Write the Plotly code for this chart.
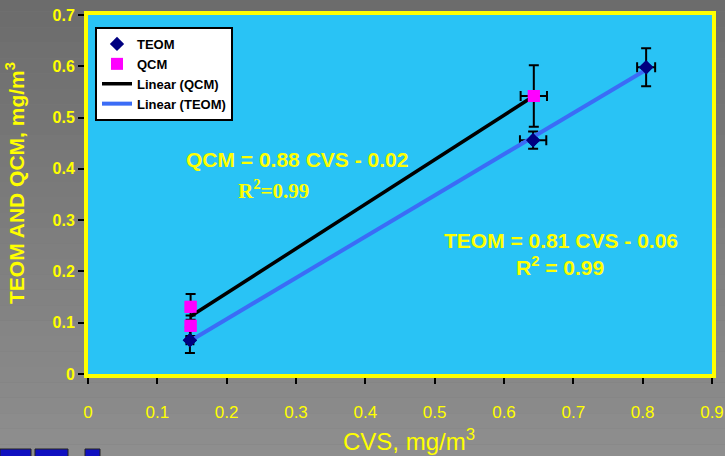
import numpy as np
import plotly.graph_objects as go

# ---- data ----
teom_x = [0.147, 0.642, 0.805]
teom_y = [0.066, 0.456, 0.598]
teom_ey = [0.025, 0.017, 0.037]
teom_ex = [0.005, 0.019, 0.013]

qcm_x = [0.148, 0.148, 0.643]
qcm_y = [0.131, 0.094, 0.542]
qcm_ey = [0.025, 0.02, 0.06]
qcm_ex = [0.005, 0.005, 0.019]

x_ticks = [0, 0.1, 0.2, 0.3, 0.4, 0.5, 0.6, 0.7, 0.8, 0.9]
y_ticks = [0, 0.1, 0.2, 0.3, 0.4, 0.5, 0.6, 0.7]

YEL = "#ffff00"
CYAN = "#29c3f5"
BLUE_LINE = "#3b6cf6"
NARROW = "Liberation Sans Narrow, Arial Narrow, Liberation Sans"
SANS = "Liberation Sans, Arial"

# plot-area geometry in pixels (for paper-coordinate conversions)
PX0, PX1, PY0, PY1 = 88, 712, 374, 15
def px(xp):
    return (xp - PX0) / (PX1 - PX0)
def py(yp):
    return (PY0 - yp) / (PY0 - PY1)

fig = go.Figure()

def fit_line(xs, ys):
    m, b = np.polyfit(xs, ys, 1)
    xx = np.array([min(xs), max(xs)])
    return xx, m * xx + b

tx, ty = fit_line(teom_x, teom_y)
qx, qy = fit_line(qcm_x, qcm_y)

fig.add_trace(go.Scatter(x=teom_x, y=teom_y, mode="markers", name="TEOM",
                         marker=dict(symbol="diamond", size=11, color="#000080"),
                         error_y=dict(type="data", array=teom_ey, color="black", thickness=2, width=5),
                         error_x=dict(type="data", array=teom_ex, color="black", thickness=2, width=5)))
fig.add_trace(go.Scatter(x=qcm_x, y=qcm_y, mode="markers", name="QCM",
                         marker=dict(symbol="square", size=12, color="#ff00ff"),
                         error_y=dict(type="data", array=qcm_ey, color="black", thickness=2, width=5),
                         error_x=dict(type="data", array=qcm_ex, color="black", thickness=2, width=5)))
fig.add_trace(go.Scatter(x=qx, y=qy, mode="lines", name="Linear (QCM)",
                         line=dict(color="black", width=3.5)))
fig.add_trace(go.Scatter(x=tx, y=ty, mode="lines", name="Linear (TEOM)",
                         line=dict(color=BLUE_LINE, width=4)))
fig.add_trace(go.Scatter(x=qcm_x, y=qcm_y, mode="markers", showlegend=False, hoverinfo="skip",
                         marker=dict(symbol="square", size=12, color="#ff00ff")))
fig.add_trace(go.Scatter(x=teom_x, y=teom_y, mode="markers", showlegend=False, hoverinfo="skip",
                         marker=dict(symbol="diamond", size=11, color="#000080")))

# gradient gray background
shapes = []
nb = 30
y0p, y1p = py(456) - 0.01, py(0) + 0.01
for i in range(nb):
    a = y0p + (y1p - y0p) * i / nb
    b = y0p + (y1p - y0p) * (i + 1) / nb
    t = i / (nb - 1)
    g = int(round(142 - (142 - 108) * t))
    shapes.append(dict(type="rect", xref="paper", yref="paper", x0=-0.3, x1=1.3, y0=a, y1=b,
                       fillcolor=f"rgb({g},{g},{g})", line=dict(width=0), layer="below"))
shapes.append(dict(type="rect", xref="paper", yref="paper", x0=0, x1=1, y0=0, y1=1,
                   fillcolor=CYAN, line=dict(width=0), layer="below"))
for (x0, x1) in [(0, 31), (35, 68), (85, 100)]:
    shapes.append(dict(type="rect", xref="paper", yref="paper",
                       x0=px(x0), x1=px(x1), y0=py(457), y1=py(449),
                       fillcolor="#1010c0", line=dict(color="#222", width=1), layer="above"))

ann_font = dict(family=SANS, size=21, color=YEL, weight="bold")
C = dict(xref="paper", yref="paper", showarrow=False, xanchor="center", yanchor="middle")
annotations = [
    dict(x=px(297), y=py(159), text="QCM = 0.88 CVS - 0.02", font=ann_font, **C),
    dict(x=px(273), y=py(189), text="R<sup>2</sup>=0.99",
         font=dict(family="Liberation Serif, Times New Roman", size=21, color=YEL, weight="bold"), **C),
    dict(x=px(561), y=py(240), text="TEOM = 0.81 CVS - 0.06", font=ann_font, **C),
    dict(x=px(560), y=py(266), text="R<sup>2</sup> = 0.99", font=ann_font, **C),
    # axis titles
    dict(x=px(15), y=py(183), text="TEOM AND QCM, mg/m<sup>3</sup>", textangle=-90,
         font=dict(family=SANS, size=21, color=YEL, weight="bold"), **C),
    dict(x=px(409), y=py(440), text="CVS, mg/m<sup>3</sup>",
         font=dict(family=NARROW, size=24, color=YEL), **C),
]

fig.update_layout(
    width=725, height=456, autosize=False,
    margin=dict(l=PX0, r=725 - PX1, t=PY1, b=456 - PY0, autoexpand=False),
    paper_bgcolor="#7c7c7c", plot_bgcolor=CYAN,
    shapes=shapes, annotations=annotations,
    showlegend=True,
    legend=dict(x=px(95), y=py(27), xanchor="left", yanchor="top",
                bgcolor="white", bordercolor="black", borderwidth=2,
                font=dict(family=SANS, size=13, color="black", weight="bold"),
                tracegroupgap=0, itemwidth=30),
    xaxis=dict(range=[0, 0.9], tickvals=x_ticks, ticktext=[f"{v:g}" for v in x_ticks],
               automargin=False, showgrid=False, zeroline=False,
               showline=True, linecolor=YEL, linewidth=4, mirror=True,
               ticks="outside", tickcolor="black", ticklen=6, tickwidth=2,
               ticklabelstandoff=14,
               tickfont=dict(family=NARROW, size=17, color=YEL)),
    yaxis=dict(range=[0, 0.7], tickvals=y_ticks, ticktext=[f"{v:g}" for v in y_ticks],
               automargin=False, showgrid=False, zeroline=False,
               showline=True, linecolor=YEL, linewidth=4, mirror=True,
               ticks="outside", tickcolor="black", ticklen=6, tickwidth=2,
               tickfont=dict(family=SANS, size=16, color=YEL, weight="bold")),
)

fig.write_html("out.html")
